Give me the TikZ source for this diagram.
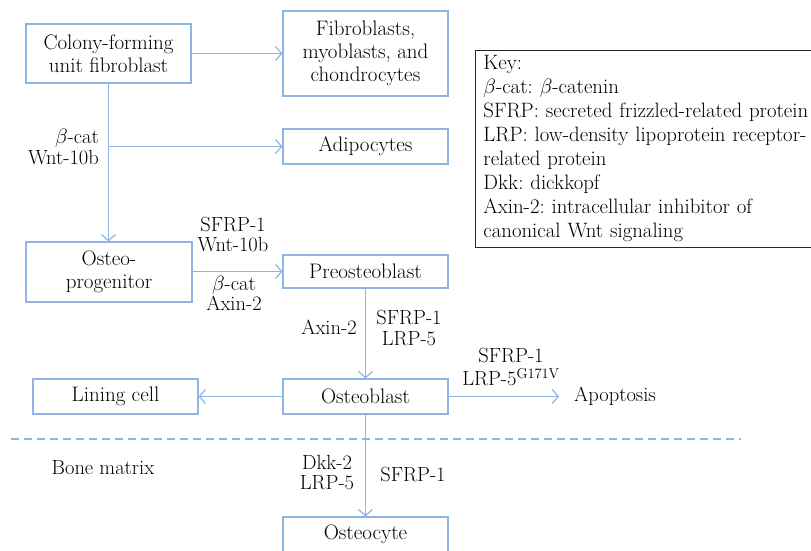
\documentclass[tikz,border=0pt]{standalone}
\usetikzlibrary{arrows.meta}
\definecolor{cellBlue}{RGB}{141, 180, 226}
\definecolor{keyGray}{RGB}{40, 40, 40}
\tikzset{
  cellbox/.style={draw=cellBlue,line width=1.3pt,minimum width=165pt,align=center,inner sep=0pt,font=\fontsize{21}{23}\selectfont},
  flow/.style={draw=cellBlue,line width=1.3pt,-{Straight Barb[length=6pt,width=14pt,line width=1.2pt]}},
  factor/.style={align=center,inner sep=0pt,font=\fontsize{20.5}{20.5}\selectfont}
}
\frenchspacing
\begin{document}
\begin{tikzpicture}[x=1pt,y=-1pt]
      \clip (0,0) rectangle (811,550);
      % Cell boxes
      \node[cellbox,minimum height=59pt] (colony) at (108.5,53.5) {Colony-forming\\unit fibroblast};
      \node[cellbox,minimum height=85pt] (fibro) at (365.5,53.5) {Fibroblasts,\\myoblasts, and\\chondrocytes};
      \node[cellbox,minimum height=35pt] (adipo) at (365.5,146.5) {Adipocytes};
      \node[cellbox,minimum height=60pt,minimum width=166pt] (osteoprog) at (109,272) {Osteo-\\progenitor};
      \node[cellbox,minimum height=33pt] (preosteo) at (365.5,271.5) {Preosteoblast};
      \node[cellbox,minimum height=35pt] (osteoblast) at (365.5,396.5) {Osteoblast};
      \node[cellbox,minimum height=35pt] (lining) at (115.5,396.5) {Lining cell};
      \node[cellbox,minimum height=35pt] (osteocyte) at (365.5,534.5) {Osteocyte};
      \node[factor,anchor=west,inner xsep=15pt] (apoptosis) at (559,396.5) {Apoptosis};
      \node[factor] (matrix) at (103,468) {Bone matrix};

      % Connectors
      \draw[flow] (colony.east) -- (fibro.west);
      \draw[flow] (colony.south) -- (colony.south |- osteoprog.north);
      \coordinate (branch) at (colony.south |- adipo.west);
      \draw[flow] (branch) -- (adipo.west);
      \draw[flow] (preosteo.west -| osteoprog.east) -- (preosteo.west);
      \draw[flow] (preosteo.south) -- (osteoblast.north);
      \draw[flow] (osteoblast.west) -- (lining.east);
      \draw[flow] (osteoblast.east) -- (osteoblast.east -| apoptosis.west);
      \draw[flow] (osteoblast.south) -- (osteocyte.north);

      % Bone surface
      \coordinate (surfL) at (11,439);
      \coordinate (surfR) at (741,439);
      \draw[cellBlue,line width=1.3pt,dash pattern=on 7.5pt off 5.5pt] (surfL) -- (surfR);

      % Signalling factors
      \node[factor,anchor=east,align=right] (fcolony) at (99,147) {$\beta$-cat\\Wnt-10b};
      \node[factor] (fprogup) at (233,234.5) {SFRP-1\\Wnt-10b};
      \node[factor] (fprogdown) at (234,293.5) {$\beta$-cat\\Axin-2};
      \node[factor] (fpreleft) at (329,327) {Axin-2};
      \node[factor] (fpreright) at (409,328) {SFRP-1\\LRP-5};
      \node[factor,font=\fontsize{20.5}{23.5}\selectfont] (fapop) at (511,367) {SFRP-1\\LRP-5\textsuperscript{G171V}};
      \node[factor] (fcyteleft) at (327,472.5) {Dkk-2\\LRP-5};
      \node[factor] (fcyteright) at (413,474) {SFRP-1};

      % Key
      \node[draw=keyGray,line width=0.8pt,anchor=north west,minimum width=345pt,minimum height=197pt,inner xsep=8pt,inner ysep=4pt,align=left,text width=340pt,font=\fontsize{20.8}{24}\selectfont] (key) at (475,50) {Key:\\
        $\beta$-cat: $\beta$-catenin\\
        SFRP: secreted frizzled-related protein\\
        LRP: low-density lipoprotein receptor-\\
        related protein\\
        Dkk: dickkopf\\
        Axin-2: intracellular inhibitor of\\
        canonical Wnt signaling};
\end{tikzpicture}
\end{document}
